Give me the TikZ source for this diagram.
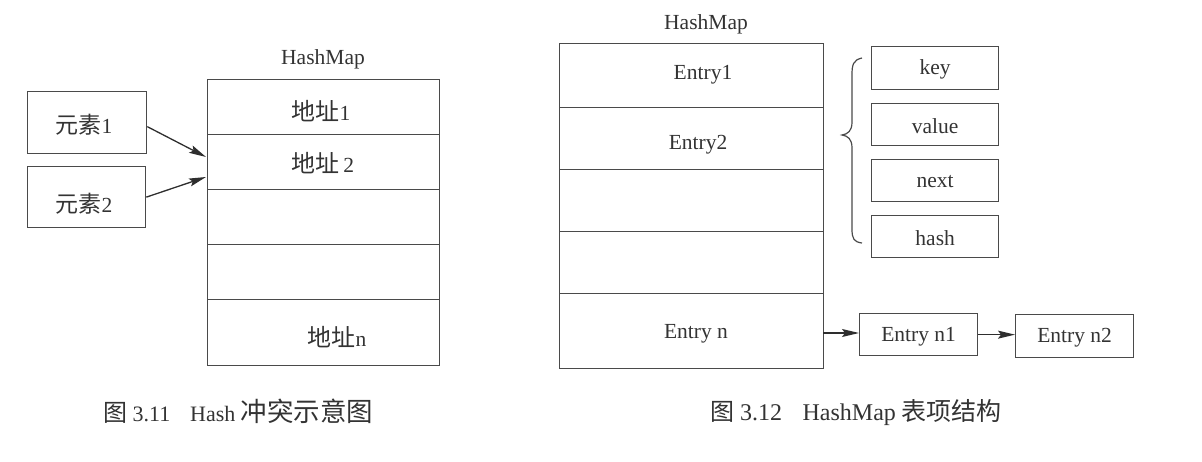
\documentclass[tikz,border=0pt]{standalone}
\usepackage{fontspec}
\setmainfont{Liberation Serif}
\newfontfamily\cjk{Noto Sans CJK SC}
\newcommand\cjkt[2]{{\fontsize{#1}{#1}\cjk #2}}
\usetikzlibrary{arrows.meta}
\definecolor{ink}{HTML}{333333}
\definecolor{edge}{HTML}{4A4A4A}
\definecolor{arrink}{HTML}{2E2E2E}
\begin{document}
\begin{tikzpicture}[x=1pt,y=-1pt,
  every node/.style={text=ink, font=\fontsize{21.5}{24}\selectfont, inner sep=0pt},
  cellbox/.style={draw=edge, line width=1.3pt, anchor=north west, inner sep=0pt},
  capt/.style={anchor=west},
  arr/.style={draw=arrink, line width=1.3pt, -{Stealth[length=17pt,width=8pt,inset=3pt]}},
  bracestyle/.style={draw=edge, line width=1.2pt}]
\useasboundingbox (0,0) rectangle (1202,462);
% ---------- left figure ----------
\node (hm1) at (323,59) {HashMap};
\node[cellbox, minimum width=232pt, minimum height=55pt] (l1) at (207,79) {};
\node[cellbox, minimum width=232pt, minimum height=55pt] (l2) at (207,134) {};
\node[cellbox, minimum width=232pt, minimum height=55pt] (l3) at (207,189) {};
\node[cellbox, minimum width=232pt, minimum height=55pt] (l4) at (207,244) {};
\node[cellbox, minimum width=232pt, minimum height=66pt] (l5) at (207,299) {};
\node (t1) at (321,111) {\cjkt{24}{地址}1};
\node (t2) at (323,163) {\cjkt{24}{地址}\,2};
\node (tn) at (337,337) {\cjkt{24}{地址}n};
\node[cellbox, minimum width=119pt, minimum height=62pt] (e1) at (27,91) {};
\node[cellbox, minimum width=118pt, minimum height=61pt] (e2) at (27,166) {};
\node (e1t) at (84,125) {\cjkt{23}{元素}1};
\node (e2t) at (84,204) {\cjkt{23}{元素}2};
\coordinate (a1) at (206,157);
\coordinate (a2) at (206,177);
\draw[arr] ([yshift=-4pt]e1.east) -- (a1);
\draw[arr] (e2.east) -- (a2);
\node[capt] (c1) at (103,411) {\fontsize{22}{26}\selectfont\cjkt{24}{图} 3.11\hspace{0.9em}Hash \cjkt{26.5}{冲突示意图}};
% ---------- right figure ----------
\node (hm2) at (706,24) {HashMap};
\node[cellbox, minimum width=264pt, minimum height=64pt] (r1) at (559,43) {};
\node[cellbox, minimum width=264pt, minimum height=62pt] (r2) at (559,107) {};
\node[cellbox, minimum width=264pt, minimum height=62pt] (r3) at (559,169) {};
\node[cellbox, minimum width=264pt, minimum height=62pt] (r4) at (559,231) {};
\node[cellbox, minimum width=264pt, minimum height=75pt] (r5) at (559,293) {};
\node (s1) at (703,75) {Entry1};
\node (s2) at (698,145) {Entry2};
\node (sn) at (696,334) {Entry n};
\node[cellbox, minimum width=127pt, minimum height=43pt] (k1) at (871,46) {};
\node[cellbox, minimum width=127pt, minimum height=42pt] (k2) at (871,103) {};
\node[cellbox, minimum width=127pt, minimum height=42pt] (k3) at (871,159) {};
\node[cellbox, minimum width=127pt, minimum height=42pt] (k4) at (871,215) {};
\node at ([yshift=-1pt]k1.center) {key};
\node at ([yshift=-1pt]k2.center) {value};
\node at ([yshift=-1pt]k3.center) {next};
\node at ([yshift=-1pt]k4.center) {hash};
\draw[bracestyle] (862,58) .. controls (853,60) and (852,65) .. (852,75)
  -- (852,122) .. controls (852,131) and (848,134) .. (842,135)
  .. controls (848,136) and (852,139) .. (852,148)
  -- (852,229) .. controls (852,239) and (854,242) .. (862,243);
\node[cellbox, minimum width=118pt, minimum height=42pt] (n1) at (859,313) {};
\node[cellbox, minimum width=118pt, minimum height=43pt] (n2) at (1015,314) {};
\node at ([yshift=-2pt]n1.center) {Entry n1};
\node at ([yshift=-2pt]n2.center) {Entry n2};
\coordinate (b0) at (823,333);
\draw[arr] (b0) -- (n1.west |- b0);
\draw[arr] (n1.east) -- (n2.west |- n1.east);
\node[capt] (c2) at (710,413) {\fontsize{24}{28}\selectfont\cjkt{24}{图} 3.12\hspace{0.85em}HashMap \cjkt{25}{表项结构}};
\end{tikzpicture}
\end{document}
